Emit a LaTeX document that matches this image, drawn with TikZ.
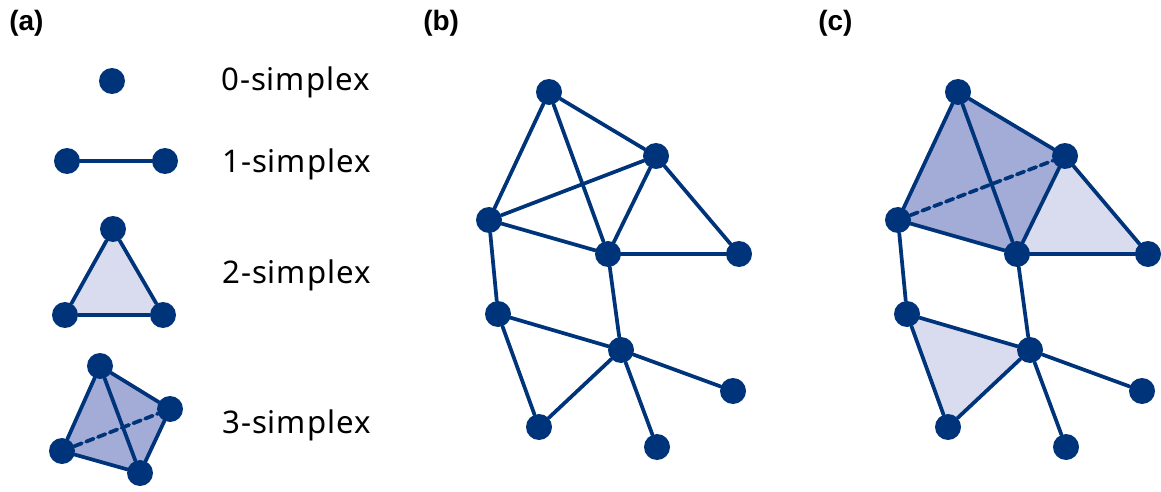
\documentclass[tikz,border=0pt]{standalone}
\usepackage{fontspec}
\setmainfont{Noto Sans}[LetterSpace=3]
\newfontfamily\tagfont{Liberation Sans}
\usepackage{xcolor}
\usetikzlibrary{backgrounds}
\definecolor{navy}{HTML}{00347A}
\definecolor{pale}{HTML}{D9DCEE}
\definecolor{lilac}{HTML}{A3ACD6}
\tikzset{
  edge/.style={draw=navy, line width=2.8pt, line cap=round, line join=round},
  hidden/.style={edge, dashed, dash pattern=on 6pt off 3.5pt},
  dot/.style={circle, fill=navy, inner sep=0pt, minimum size=19.5pt},
  face/.style={fill=pale},
  solid3/.style={fill=lilac},
  lab/.style={font=\fontsize{23.4}{27}\selectfont, anchor=base west, inner sep=0pt},
  tag/.style={font=\tagfont\bfseries\fontsize{21}{24}\selectfont, anchor=base west, inner sep=0pt},
}

\begin{document}
\begin{tikzpicture}[x=0.75pt,y=-0.75pt]
  \useasboundingbox (0,0) rectangle (1161,492);

  % panel labels
  \node[tag] (ta) at (9,31) {(a)};
  \node[tag] (tb) at (423,31) {(b)};
  \node[tag] (tc) at (818,31) {(c)};

  % (a) the four simplices
  \node[dot] (s0) at (112,81) {};
  \node[lab] (l0) at (221,91) {0-simplex};

  \node[dot] (s1a) at (67,161) {};
  \node[dot] (s1b) at (165,161) {};
  \draw[edge] (s1a) -- (s1b);
  \node[lab] (l1) at (222,172) {1-simplex};

  \node[dot] (s2a) at (113,229) {};
  \node[dot] (s2b) at (65,315) {};
  \node[dot] (s2c) at (163,315) {};
  \begin{scope}[on background layer]
    \fill[face] (s2a.center) -- (s2b.center) -- (s2c.center) -- cycle;
  \end{scope}
  \draw[edge] (s2a) -- (s2b) -- (s2c) -- (s2a);
  \node[lab] (l2) at (222,283) {2-simplex};

  \node[dot] (s3a) at (100,366) {};
  \node[dot] (s3b) at (170,409) {};
  \node[dot] (s3c) at (62,451) {};
  \node[dot] (s3d) at (140,473) {};
  \begin{scope}[on background layer]
    \fill[solid3] (s3a.center) -- (s3b.center) -- (s3d.center) -- (s3c.center) -- cycle;
  \end{scope}
  \draw[edge] (s3a) -- (s3b) -- (s3d) -- (s3c) -- (s3a) -- (s3d);
  \draw[hidden] (s3c) -- (s3b);
  \node[lab] (l3) at (222,433) {3-simplex};

  % (b) graph and (c) complex on the same vertices
  \foreach \p/\dx in {b/0,c/409} {
    \begin{scope}[shift={(\dx,0)}]
      \foreach \n/\x/\y in {1/549/92, 2/656/156, 3/489/220, 4/608/254, 5/739/254,
                            6/498/314, 7/621/350, 8/733/391, 9/539/427, 10/657/447}
        \node[dot] (\p\n) at (\x,\y) {};
    \end{scope}
    \foreach \u/\v in {1/3, 1/4, 1/2, 3/4, 2/4, 2/5, 4/5, 3/6, 4/7,
                       6/7, 6/9, 9/7, 7/8, 7/10}
      \draw[edge] (\p\u) -- (\p\v);
  }
  \draw[edge] (b3) -- (b2);
  \draw[hidden] (c3) -- (c2);

  \begin{scope}[on background layer]
    \fill[solid3] (c1.center) -- (c2.center) -- (c4.center) -- (c3.center) -- cycle;
    \fill[face] (c2.center) -- (c5.center) -- (c4.center) -- cycle;
    \fill[face] (c6.center) -- (c7.center) -- (c9.center) -- cycle;
  \end{scope}
\end{tikzpicture}
\end{document}
